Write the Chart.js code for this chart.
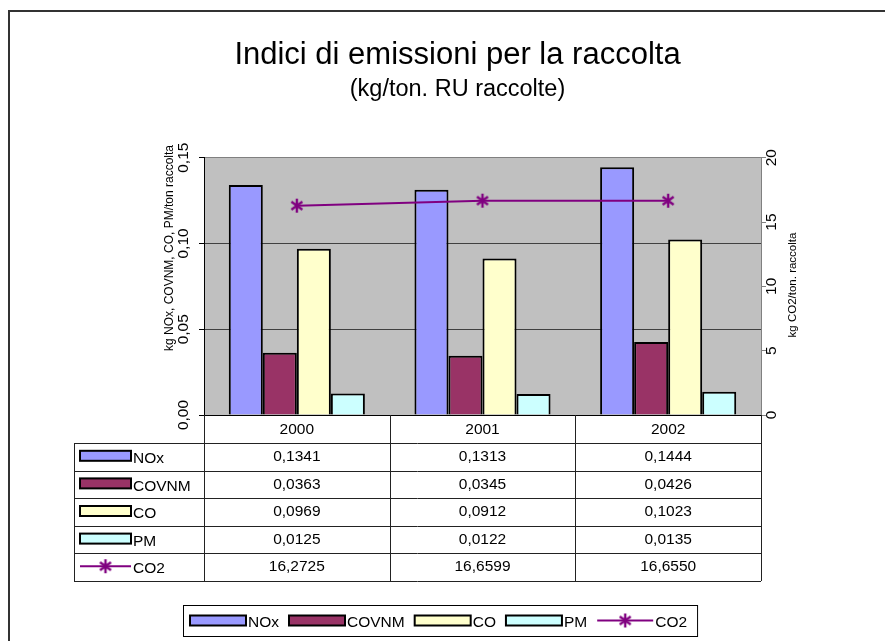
<!DOCTYPE html>
<html>
<head>
<meta charset="utf-8">
<script src="https://cdn.jsdelivr.net/npm/chart.js@4/dist/chart.umd.min.js"></script>
<style>
html,body{margin:0;padding:0;background:#fff;}
canvas{display:block;}
</style>
</head>
<body>
<canvas id="c" width="885" height="641"></canvas>
<script>
// ---- data ----
const categories = ['2000', '2001', '2002'];
const noxValues = [0.1341, 0.1313, 0.1444];
const covnmValues = [0.0363, 0.0345, 0.0426];
const coValues = [0.0969, 0.0912, 0.1023];
const pmValues = [0.0125, 0.0122, 0.0135];
const co2Values = [16.2725, 16.6599, 16.6550];
const seriesNames = ['NOx', 'COVNM', 'CO', 'PM', 'CO2'];
const leftTicks = [0, 0.05, 0.10, 0.15];
const leftTickLabels = ['0,00', '0,05', '0,10', '0,15'];
const rightTicks = [0, 5, 10, 15, 20];
const rightTickLabels = ['0', '5', '10', '15', '20'];
const titleText = 'Indici di emissioni per la raccolta';
const subtitleText = '(kg/ton. RU raccolte)';
const leftAxisTitle = 'kg NOx, COVNM, CO, PM/ton raccolta';
const rightAxisTitle = 'kg CO2/ton. raccolta';

// ---- styles ----
const FONT = '"Liberation Sans", Arial, sans-serif';
const colors = ['#9999FF', '#993366', '#FFFFCC', '#CCFFFF', '#800080'];

function makeStar() {
  const c = document.createElement('canvas');
  c.width = 16; c.height = 16;
  const g = c.getContext('2d');
  g.strokeStyle = '#800080';
  g.lineWidth = 2.4;
  g.beginPath();
  g.moveTo(8, 1); g.lineTo(8, 15);
  g.moveTo(2.5, 4); g.lineTo(13.5, 12);
  g.moveTo(2.5, 12); g.lineTo(13.5, 4);
  g.stroke();
  return c;
}
const star = makeStar();

const tableValues = [noxValues, covnmValues, coValues, pmValues, co2Values];
function fmt(v) { return v.toFixed(4).replace('.', ','); }

function drawKey(ctx, i, x, cy, w) {
  if (i < 4) {
    ctx.fillStyle = colors[i];
    ctx.fillRect(x, cy - 5, w, 10);
    ctx.strokeStyle = '#000';
    ctx.lineWidth = 2;
    ctx.strokeRect(x, cy - 5, w, 10);
  } else {
    ctx.strokeStyle = '#800080';
    ctx.lineWidth = 2;
    ctx.beginPath();
    ctx.moveTo(x, cy); ctx.lineTo(x + w, cy);
    ctx.stroke();
    ctx.drawImage(star, x + w / 2 - 8, cy - 8);
  }
}

const decor = {
  id: 'decor',
  beforeDraw(chart) {
    const ctx = chart.ctx;
    const a = chart.chartArea;
    ctx.save();
    ctx.fillStyle = '#C0C0C0';
    ctx.fillRect(a.left, a.top, a.right - a.left, a.bottom - a.top);
    ctx.restore();
  },
  afterDraw(chart) {
    const ctx = chart.ctx;
    const a = chart.chartArea;
    const xs = chart.scales.x, ys = chart.scales.y, y1 = chart.scales.y1;
    ctx.save();
    // outer frame
    ctx.strokeStyle = '#333';
    ctx.lineWidth = 2;
    ctx.beginPath();
    ctx.moveTo(9, 641); ctx.lineTo(9, 11); ctx.lineTo(885, 11);
    ctx.stroke();

    // axis tick labels (rotated)
    ctx.fillStyle = '#000';
    ctx.textAlign = 'center';
    ctx.textBaseline = 'middle';
    ctx.font = '15.5px ' + FONT;
    leftTicks.forEach((v, i) => {
      const py = ys.getPixelForValue(v);
      ctx.save(); ctx.translate(184, py); ctx.rotate(-Math.PI / 2);
      ctx.fillText(leftTickLabels[i], 0, 0); ctx.restore();
    });
    rightTicks.forEach((v, i) => {
      const py = y1.getPixelForValue(v);
      ctx.save(); ctx.translate(772, py); ctx.rotate(-Math.PI / 2);
      ctx.fillText(rightTickLabels[i], 0, 0); ctx.restore();
    });
    // axis titles
    ctx.font = '12px ' + FONT;
    ctx.save(); ctx.translate(170, 248); ctx.rotate(-Math.PI / 2);
    ctx.fillText(leftAxisTitle, 0, 0); ctx.restore();
    ctx.font = '11.5px ' + FONT;
    ctx.save(); ctx.translate(793, 285); ctx.rotate(-Math.PI / 2);
    ctx.fillText(rightAxisTitle, 0, 0); ctx.restore();

    // data table
    const catW = (a.right - a.left) / categories.length;
    const tLeft = 74;
    const top = a.bottom;
    const headH = 28, rowH = 27.6;
    const rowsBottom = top + headH + rowH * 5;
    ctx.strokeStyle = '#222';
    ctx.lineWidth = 1;
    ctx.beginPath();
    for (let r = 0; r <= 5; r++) {
      const yy = Math.round(top + headH + rowH * r) + 0.5;
      ctx.moveTo(tLeft, yy); ctx.lineTo(a.right, yy);
    }
    ctx.moveTo(tLeft + 0.5, top + headH); ctx.lineTo(tLeft + 0.5, rowsBottom);
    for (let c = 0; c <= categories.length; c++) {
      const xx = Math.round(a.left + catW * c) + 0.5;
      ctx.moveTo(xx, top); ctx.lineTo(xx, rowsBottom);
    }
    ctx.stroke();

    ctx.font = '15.5px ' + FONT;
    ctx.fillStyle = '#000';
    ctx.textAlign = 'center';
    ctx.textBaseline = 'middle';
    categories.forEach((cat, i) => {
      ctx.fillText(cat, xs.getPixelForValue(i), top + headH / 2 + 1);
    });
    for (let r = 0; r < 5; r++) {
      const cy = top + headH + rowH * r + rowH / 2;
      drawKey(ctx, r, 80, cy - 1, 51);
      ctx.fillStyle = '#000';
      ctx.textAlign = 'left';
      ctx.fillText(seriesNames[r], 133, cy + 2);
      ctx.textAlign = 'center';
      tableValues[r].forEach((v, i) => {
        ctx.fillText(fmt(v), xs.getPixelForValue(i), cy);
      });
    }

    // bottom legend
    const lgTop = 605, lgH = 31;
    const keyW = 56, gap = 10;
    let x = 190;
    const items = [];
    for (let i = 0; i < 5; i++) {
      const tw = ctx.measureText(seriesNames[i]).width;
      items.push({ x, tw });
      x += keyW + 2 + tw + gap;
    }
    const lgRight = x - gap + 10;
    ctx.strokeStyle = '#000';
    ctx.lineWidth = 1;
    ctx.strokeRect(183.5, lgTop + 0.5, lgRight - 183, lgH);
    items.forEach((it, i) => {
      const cy = lgTop + lgH / 2;
      drawKey(ctx, i, it.x, cy, keyW);
      ctx.fillStyle = '#000';
      ctx.textAlign = 'left';
      ctx.fillText(seriesNames[i], it.x + keyW + 2, cy + 2);
    });
    ctx.restore();
  }
};

const barDs = (i, data) => ({
  type: 'bar',
  label: seriesNames[i],
  data: data,
  backgroundColor: colors[i],
  borderColor: '#000',
  borderWidth: 2,
  yAxisID: 'y',
  order: 1,
  categoryPercentage: 0.733,
  barPercentage: 1.0
});

new Chart(document.getElementById('c'), {
  type: 'bar',
  data: {
    labels: categories,
    datasets: [
      {
        type: 'line',
        label: seriesNames[4],
        data: co2Values,
        borderColor: '#800080',
        backgroundColor: '#800080',
        borderWidth: 2,
        tension: 0,
        pointStyle: star,
        pointRadius: 8,
        yAxisID: 'y1',
        order: 0
      },
      barDs(0, noxValues),
      barDs(1, covnmValues),
      barDs(2, coValues),
      barDs(3, pmValues)
    ]
  },
  options: {
    responsive: false,
    animation: false,
    layout: { padding: { left: 30, right: 0, top: 0, bottom: 0 } },
    plugins: {
      legend: { display: false },
      tooltip: { enabled: false },
      title: {
        display: true,
        text: titleText,
        color: '#000',
        font: { family: FONT, size: 31, weight: 'normal', lineHeight: 1.2 },
        padding: { top: 36.4, bottom: 0 }
      },
      subtitle: {
        display: true,
        text: subtitleText,
        color: '#000',
        font: { family: FONT, size: 23.5, weight: 'normal', lineHeight: 1.2 },
        padding: { top: 2.3, bottom: 53.6 }
      }
    },
    scales: {
      x: {
        position: 'bottom',
        grid: { display: false },
        ticks: { display: false },
        border: { display: true, color: '#000', width: 1 },
        afterFit: s => { s.height = 226; }
      },
      y: {
        position: 'left',
        min: 0, max: 0.15,
        ticks: { display: false, stepSize: 0.05 },
        grid: {
          color: c => (c.tick && Math.abs(c.tick.value - 0.15) < 1e-9) ? '#808080' : '#404040',
          lineWidth: 1,
          drawTicks: true,
          tickLength: 5,
          tickColor: '#000'
        },
        border: { display: true, color: '#000', width: 1 },
        afterFit: s => { s.width = 174; }
      },
      y1: {
        position: 'right',
        min: 0, max: 20,
        ticks: { display: false, stepSize: 5 },
        grid: { drawOnChartArea: false, drawTicks: true, tickLength: 5, tickColor: '#808080' },
        border: { display: true, color: '#808080', width: 1 },
        afterFit: s => { s.width = 124; }
      }
    }
  },
  plugins: [decor]
});
</script>
</body>
</html>
